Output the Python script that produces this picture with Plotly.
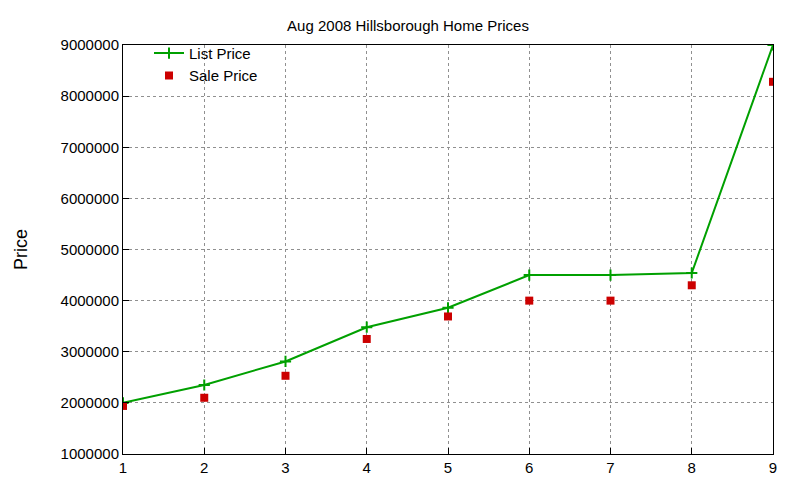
import plotly.graph_objects as go

x = [1, 2, 3, 4, 5, 6, 7, 8, 9]
list_price = [2000000, 2350000, 2810000, 3480000, 3860000, 4500000, 4500000, 4540000, 9000000]
sale_price = [1940000, 2100000, 2530000, 3250000, 3690000, 4000000, 4000000, 4300000, 8280000]

fig = go.Figure()
fig.add_trace(go.Scatter(x=x, y=list_price, name="List Price", mode="lines+markers",
                         line=dict(color="#00a000", width=2),
                         marker=dict(symbol="cross-thin", size=8, line=dict(color="#00a000", width=2))))
fig.add_trace(go.Scatter(x=x, y=sale_price, name="Sale Price", mode="markers",
                         marker=dict(symbol="square", size=8, color="#cc0000")))

axis = dict(showline=True, mirror=True, linecolor="black", linewidth=1,
            showgrid=True, gridcolor="#909090", griddash="dot", gridwidth=1,
            ticks="inside", ticklen=6, tickcolor="black", zeroline=False)
fig.update_layout(
    width=800, height=480,
    paper_bgcolor="white", plot_bgcolor="white",
    font=dict(family="Liberation Sans, Arial", size=15, color="black"),
    title=dict(text="Aug 2008 Hillsborough Home Prices", x=0.5, xanchor="center", y=0.975,
               font=dict(size=15)),
    margin=dict(l=111, r=35, t=37, b=32),
    showlegend=True,
    legend=dict(x=0.04, y=1.02, xanchor="left", yanchor="top", bgcolor="rgba(0,0,0,0)",
                font=dict(size=15), tracegroupgap=0),
    xaxis=dict(range=[1, 9], dtick=1, **axis),
    yaxis=dict(range=[1000000, 9000000], dtick=1000000, tickformat="d",
               title=dict(text="Price", standoff=28), **axis),
)

fig.write_html("out.html")
